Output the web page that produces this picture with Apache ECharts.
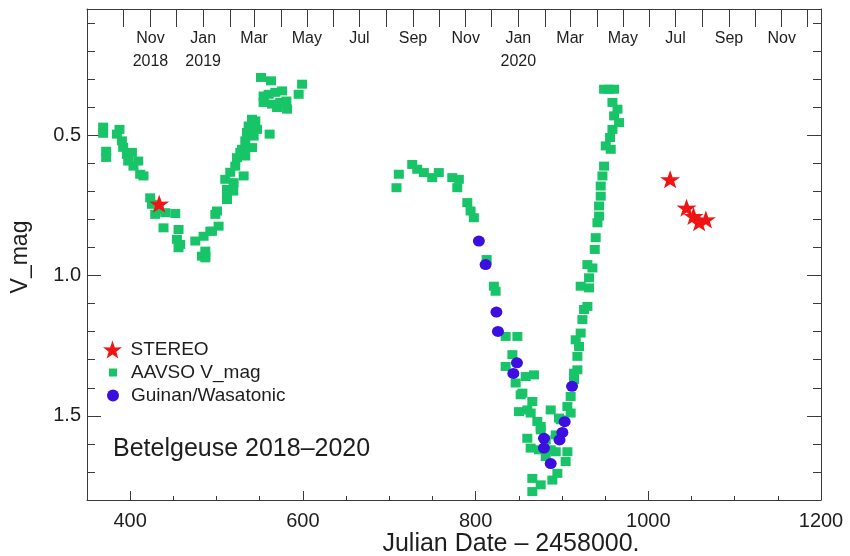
<!DOCTYPE html>
<html>
<head>
<meta charset="utf-8">
<title>Betelgeuse 2018–2020</title>
<script src="https://cdn.jsdelivr.net/npm/echarts@6/dist/echarts.min.js"></script>
<style>
  html, body { margin: 0; padding: 0; background: #fff; }
  #chart { width: 850px; height: 556px; }
</style>
</head>
<body>
<div id="chart"></div>
<script>
// Betelgeuse V-band light curve, JD - 2458000
const aavsoJD = [
  368.7, 368.7, 372.2, 372.2, 387.6, 384.6, 390.4, 391.9, 396.2, 402.0,
  397.7, 409.3, 403.8, 411.6, 415.4, 423.2, 425.2, 429.0, 432.8, 440.6,
  452.2, 438.6, 456.0, 454.1, 458.0, 456.0, 475.4, 483.1, 487.0, 485.0,
  492.8, 500.5, 502.4, 498.6, 512.1, 512.1, 519.4, 510.1, 519.8, 515.9,
  521.7, 523.7, 529.5, 533.3, 535.3, 537.2, 541.1, 544.9, 543.0, 541.1,
  533.3, 531.4, 561.5, 551.5, 563.1, 554.5, 560.3, 568.1, 575.9, 554.5,
  564.3, 573.9, 581.7, 580.9, 570.1, 599.1, 595.1, 546.9, 512.1, 494.7,
  487.0, 487.0, 527.5, 539.1,
  711.1, 708.4, 726.6, 732.4, 740.1, 749.8, 757.4, 773.0, 780.6, 778.8,
  790.4, 794.2, 798.0, 812.8, 821.2, 823.2, 834.8, 848.4, 842.6, 834.8,
  867.6, 846.4, 854.2, 865.7, 859.9, 850.2, 887.0, 871.5, 875.4, 859.9,
  863.8, 881.2, 892.8, 906.3, 904.3, 894.7, 888.9, 865.7, 875.4, 865.7,
  887.0, 896.6, 906.3, 910.1, 914.0, 917.9, 915.9, 858.0, 852.2, 863.8,
  875.4, 873.4, 910.1, 898.6, 881.2, 892.8,
  919.8, 921.7, 923.7, 925.6, 929.5, 931.4, 921.7, 931.4, 929.5, 935.3,
  938.0, 939.1, 941.1, 943.0, 943.0, 944.9, 944.9, 946.9, 948.8, 956.5,
  950.7, 955.7, 958.5, 966.2, 960.4, 964.3, 958.5, 948.8, 960.4, 954.3,
  917.9, 914.0
];
const aavsoMag = [
  0.471, 0.493, 0.557, 0.579, 0.479, 0.496, 0.520, 0.543, 0.568, 0.561,
  0.592, 0.592, 0.610, 0.639, 0.645, 0.723, 0.746, 0.782, 0.764, 0.776,
  0.779, 0.830, 0.836, 0.871, 0.889, 0.901, 0.877, 0.931, 0.931, 0.860,
  0.842, 0.770, 0.824, 0.782, 0.717, 0.693, 0.699, 0.657, 0.669, 0.632,
  0.610, 0.580, 0.550, 0.520, 0.490, 0.467, 0.443, 0.449, 0.503, 0.544,
  0.574, 0.645, 0.496, 0.294, 0.306, 0.360, 0.354, 0.347, 0.342, 0.383,
  0.389, 0.383, 0.407, 0.378, 0.401, 0.318, 0.354, 0.479, 0.729, 0.842,
  0.913, 0.937, 0.561, 0.490,
  0.639, 0.687, 0.604, 0.621, 0.633, 0.651, 0.633, 0.651, 0.657, 0.687,
  0.740, 0.770, 0.794, 0.943, 1.038, 1.056, 1.217, 1.217, 1.282, 1.324,
  1.354, 1.383, 1.419, 1.449, 1.479, 1.485, 1.479, 1.520, 1.550, 1.580,
  1.615, 1.645, 1.628, 1.628, 1.663, 1.705, 1.729, 1.723, 1.746, 1.770,
  1.621, 1.508, 1.467, 1.431, 1.348, 1.288, 1.229, 1.360, 1.425, 1.490,
  1.538, 1.621, 1.490, 1.514, 1.586, 1.568,
  1.253, 1.205, 1.157, 1.121, 1.110, 1.044, 1.038, 1.008, 0.961, 0.973,
  0.907, 0.865, 0.812, 0.788, 0.752, 0.717, 0.681, 0.645, 0.610, 0.550,
  0.538, 0.508, 0.479, 0.455, 0.431, 0.407, 0.383, 0.336, 0.336, 0.336,
  1.336, 1.371
];

const guinanJD = [803.8, 811.6, 824.1, 825.9, 847.9, 843.7, 911.7, 903.2, 900.5, 897.2, 879.2, 879.2, 887.0];
const guinanMag = [0.877, 0.961, 1.130, 1.199, 1.311, 1.349, 1.395, 1.521, 1.559, 1.586, 1.580, 1.615, 1.670];

const stereoJD = [433.6, 1025.3, 1044.3, 1052.4, 1058.9, 1066.7];
const stereoMag = [0.744, 0.657, 0.758, 0.788, 0.810, 0.800];

// Axis ticks and labels
const xMajorTicks = [400, 600, 800, 1000, 1200];
const xMinorTicks = [450, 500, 550, 650, 700, 750, 850, 900, 950, 1050, 1100, 1150];
const yMajorTicks = [0.5, 1.0, 1.5];
const yMinorTicks = [0.1, 0.2, 0.3, 0.4, 0.6, 0.7, 0.8, 0.9, 1.1, 1.2, 1.3, 1.4, 1.6, 1.7];
const monthTickRange = ['2018-10', '2020-12'];
const monthLabelKeys = ['2018-11', '2019-01', '2019-03', '2019-05', '2019-07', '2019-09', '2019-11',
                        '2020-01', '2020-03', '2020-05', '2020-07', '2020-09', '2020-11'];
const monthLabelText = ['Nov\n2018', 'Jan\n2019', 'Mar', 'May', 'Jul', 'Sep', 'Nov',
                        'Jan\n2020', 'Mar', 'May', 'Jul', 'Sep', 'Nov'];

// JD - 2458000 at 0h UT on the first of a month ("YYYY-MM")
const JD_ZERO_MS = Date.UTC(2017, 8, 3, 12);
function monthToX(key) {
  const [y, m] = key.split('-').map(Number);
  return (Date.UTC(y, m - 1, 1) - JD_ZERO_MS) / 86400000;
}
const monthTicks = [];
{
  let [y, m] = monthTickRange[0].split('-').map(Number);
  const [ey, em] = monthTickRange[1].split('-').map(Number);
  while (y < ey || (y === ey && m <= em)) {
    monthTicks.push(monthToX(y + '-' + String(m).padStart(2, '0')));
    m++; if (m > 12) { m = 1; y++; }
  }
}
const monthLabelX = monthLabelKeys.map(monthToX);

const zip = (a, b) => a.map((v, i) => [v, b[i]]);

const FONT = '"Liberation Sans", Arial, Helvetica, sans-serif';
const INK = '#1e1e1e';
const AXIS = '#3a3a3a';
const GREEN = '#18c468';
const BLUE = '#3c0ee0';
const RED = '#f01414';
const STAR = 'path://M50,0 L61.8,35.1 L97.6,34.5 L69.1,56.7 L79.4,90.5 L50,70 L20.6,90.5 L30.9,56.7 L2.4,34.5 L38.2,35.1 Z';

const X_MIN = 350, X_MAX = 1200, Y_MIN = 0.05, Y_MAX = 1.8;

function xAxisBase(extra) {
  return Object.assign({
    type: 'value', min: X_MIN, max: X_MAX, splitLine: { show: false },
    axisLine: { show: false }, axisTick: { show: false }, axisLabel: { show: false }
  }, extra);
}
function yAxisBase(extra) {
  return Object.assign({
    type: 'value', min: Y_MIN, max: Y_MAX, inverse: true, splitLine: { show: false },
    axisLine: { show: false }, axisTick: { show: false }, axisLabel: { show: false }
  }, extra);
}

const chart = echarts.init(document.getElementById('chart'), null, { renderer: 'canvas' });

chart.setOption({
  animation: false,
  backgroundColor: '#ffffff',
  textStyle: { fontFamily: FONT, color: INK },
  grid: { left: 87, right: 29, top: 9, bottom: 56 },
  xAxis: [
    xAxisBase({
      position: 'bottom',
      axisLine: { show: true, lineStyle: { color: AXIS, width: 1 } },
      axisTick: { show: true, inside: true, length: 9, customValues: xMajorTicks, lineStyle: { color: AXIS } },
      axisLabel: {
        show: true, customValues: xMajorTicks, margin: 11, fontSize: 20, color: INK, fontFamily: FONT,
        formatter: v => String(v)
      }
    }),
    xAxisBase({
      position: 'bottom',
      axisTick: { show: true, inside: true, length: 4, customValues: xMinorTicks, lineStyle: { color: AXIS } }
    }),
    xAxisBase({
      position: 'top',
      axisLine: { show: true, lineStyle: { color: AXIS, width: 1 } },
      axisTick: { show: true, inside: true, length: 18, customValues: monthTicks, lineStyle: { color: AXIS } },
      axisLabel: {
        show: true, inside: true, margin: 18, customValues: monthLabelX,
        fontSize: 16, lineHeight: 23, color: INK, fontFamily: FONT,
        formatter: function (v) {
          const i = monthLabelX.findIndex(x => Math.abs(x - v) < 0.01);
          return i >= 0 ? monthLabelText[i] : '';
        }
      }
    })
  ],
  yAxis: [
    yAxisBase({
      position: 'left',
      axisLine: { show: true, lineStyle: { color: AXIS, width: 1 } },
      axisTick: { show: true, inside: true, length: 14, customValues: yMajorTicks, lineStyle: { color: AXIS } },
      axisLabel: {
        show: true, customValues: yMajorTicks, margin: 6, fontSize: 20, color: INK, fontFamily: FONT,
        formatter: v => v.toFixed(1)
      }
    }),
    yAxisBase({
      position: 'left',
      axisTick: { show: true, inside: true, length: 8, customValues: yMinorTicks, lineStyle: { color: AXIS } }
    }),
    yAxisBase({
      position: 'right',
      axisLine: { show: true, lineStyle: { color: AXIS, width: 1 } },
      axisTick: { show: true, inside: true, length: 14, customValues: yMajorTicks, lineStyle: { color: AXIS } }
    }),
    yAxisBase({
      position: 'right',
      axisTick: { show: true, inside: true, length: 8, customValues: yMinorTicks, lineStyle: { color: AXIS } }
    })
  ],
  legend: [
    {
      data: [{ name: 'STEREO', icon: STAR }],
      orient: 'vertical', left: 103, top: 340, itemWidth: 20, itemHeight: 18,
      selectedMode: false, padding: 0,
      textStyle: { fontSize: 19, color: INK, fontFamily: FONT, padding: [0, 0, 0, 3] }
    },
    {
      data: [{ name: 'AAVSO V_mag', icon: 'rect' }],
      orient: 'vertical', left: 109, top: 363, itemWidth: 8, itemHeight: 8,
      selectedMode: false, padding: 0,
      textStyle: { fontSize: 19, color: INK, fontFamily: FONT, padding: [0, 0, 0, 9] }
    },
    {
      data: [{ name: 'Guinan/Wasatonic', icon: 'circle' }],
      orient: 'vertical', left: 107, top: 386, itemWidth: 12, itemHeight: 12,
      selectedMode: false, padding: 0,
      textStyle: { fontSize: 19, color: INK, fontFamily: FONT, padding: [0, 0, 0, 7] }
    }
  ],
  title: {
    text: 'Betelgeuse 2018–2020',
    left: 113, top: 437, padding: 0,
    textStyle: { fontSize: 25, fontWeight: 'normal', color: INK, fontFamily: FONT }
  },
  graphic: [
    {
      type: 'text', x: 511, y: 544,
      style: { text: 'Julian Date – 2458000.', fontSize: 25, fontFamily: FONT, fill: INK, align: 'center', verticalAlign: 'middle' }
    },
    {
      type: 'text', x: 21, y: 257, rotation: Math.PI / 2,
      style: { text: 'V_mag', fontSize: 23, fontFamily: FONT, fill: INK, align: 'center', verticalAlign: 'middle' }
    }
  ],
  series: [
    {
      name: 'AAVSO V_mag', type: 'scatter', xAxisIndex: 0, yAxisIndex: 0,
      symbol: 'rect', symbolSize: [10, 9],
      itemStyle: { color: GREEN, opacity: 1 },
      data: zip(aavsoJD, aavsoMag), z: 2
    },
    {
      name: 'Guinan/Wasatonic', type: 'scatter', xAxisIndex: 0, yAxisIndex: 0,
      symbol: 'circle', symbolSize: [12, 11],
      itemStyle: { color: BLUE, opacity: 1 },
      data: zip(guinanJD, guinanMag), z: 3
    },
    {
      name: 'STEREO', type: 'scatter', xAxisIndex: 0, yAxisIndex: 0,
      symbol: STAR, symbolSize: [20, 18],
      itemStyle: { color: RED, opacity: 1 },
      data: zip(stereoJD, stereoMag), z: 4
    }
  ]
});
</script>
</body>
</html>
